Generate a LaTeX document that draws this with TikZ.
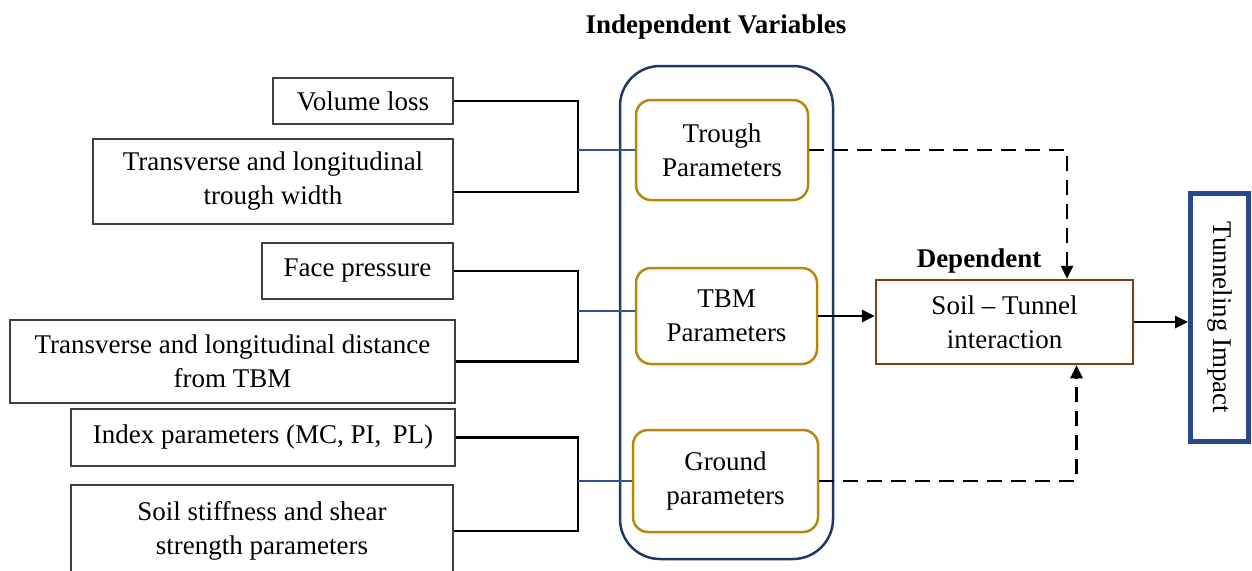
\documentclass[tikz,border=0pt]{standalone}
\usepackage{fontspec}
\setmainfont{Liberation Serif}
\usetikzlibrary{arrows.meta}
\definecolor{boxgray}{RGB}{64,64,64}
\definecolor{navy}{RGB}{31,56,100}
\definecolor{gold}{RGB}{184,134,11}
\definecolor{rust}{RGB}{132,60,12}
\definecolor{linkblue}{RGB}{47,85,151}
\definecolor{impblue}{RGB}{40,72,140}
\begin{document}
\begin{tikzpicture}[x=1pt,y=-1pt,
  font=\fontsize{27}{34}\selectfont,
  leftbox/.style={draw=boxgray, line width=1.5pt, align=center, inner sep=0pt},
  parbox/.style={draw=gold, line width=2.5pt, rounded corners=15pt, align=center, inner sep=0pt},
  bracket/.style={black, line width=2.5pt},
  link/.style={linkblue, line width=1.2pt},
  solidarrow/.style={black, line width=2.5pt, -{Triangle[length=13pt,width=12pt]}},
  dasharrow/.style={black, line width=2.5pt, dash pattern=on 15pt off 9pt, -{Triangle[length=13pt,width=12pt]}}
]
\useasboundingbox (0,0) rectangle (1252,570);

% title
\node[font=\fontsize{27}{34}\selectfont\bfseries] (title) at (716,27) {Independent Variables};

% outer group
\node[draw=navy, line width=2.5pt, rounded corners=40pt, minimum width=213pt, minimum height=493pt, inner sep=0pt] (indep) at (726.5,312.5) {};

% left boxes
\node[leftbox, minimum width=180pt, minimum height=46pt] (vl) at (363,101) {Volume loss};
\node[leftbox, minimum width=360pt, minimum height=85pt] (tw) at (273,181.5) {Transverse and longitudinal\\trough width};
\node[leftbox, minimum width=191pt, minimum height=56pt] (fp) at (357.5,271) {Face pressure};
\node[leftbox, minimum width=445pt, minimum height=83pt] (td) at (232.5,361.5) {Transverse and longitudinal distance\\from TBM};
\node[leftbox, minimum width=384pt, minimum height=57pt] (ip) at (263,437.5) {Index parameters (MC, PI,\, PL)};
\node[leftbox, minimum width=382pt, minimum height=92pt] (ss) at (262,531) {Soil stiffness and shear\\strength parameters};

% parameter boxes
\node[parbox, minimum width=172pt, minimum height=100pt] (trough) at (722,150) {Trough\\Parameters};
\node[parbox, minimum width=181pt, minimum height=96pt] (tbm) at (726.5,316) {TBM\\Parameters};
\node[parbox, minimum width=185pt, minimum height=102pt] (ground) at (725.5,481) {Ground\\parameters};

% dependent
\node[font=\fontsize{27}{34}\selectfont\bfseries] (deplabel) at (979,261) {Dependent};
\node[draw=rust, line width=2.5pt, minimum width=257pt, minimum height=84pt, align=center, inner sep=0pt] (soil) at (1004.5,322) {Soil -- Tunnel\\interaction};

% impact
\node[draw=impblue, line width=5pt, minimum width=58pt, minimum height=248pt, inner sep=0pt] (impact) at (1219.5,317.5) {\rotatebox{-90}{Tunneling Impact}};

% bracket x position
\coordinate (bx) at (578,0);

% brackets
\draw[bracket] (vl.east) -- (vl.east -| bx) |- ([yshift=-10.5pt]tw.east);
\draw[bracket] (fp.east) -- (fp.east -| bx) |- (td.east);
\draw[bracket] (ip.east) -- (ip.east -| bx) |- (ss.east);

% blue links
\draw[link] (bx |- trough.west) -- (trough.west);
\draw[link] ([yshift=5pt]tbm.west -| bx) -- ([yshift=5pt]tbm.west);
\draw[link] (bx |- ground.west) -- (ground.west);

% arrows
\draw[solidarrow] (tbm.east) -- (tbm.east -| soil.west);
\draw[dasharrow] (trough.east) -| ([xshift=62.5pt]soil.north);
\draw[dasharrow] (ground.east) -| ([xshift=72pt]soil.south);
\draw[solidarrow] (soil.east) -- (soil.east -| impact.west);
\end{tikzpicture}
\end{document}
